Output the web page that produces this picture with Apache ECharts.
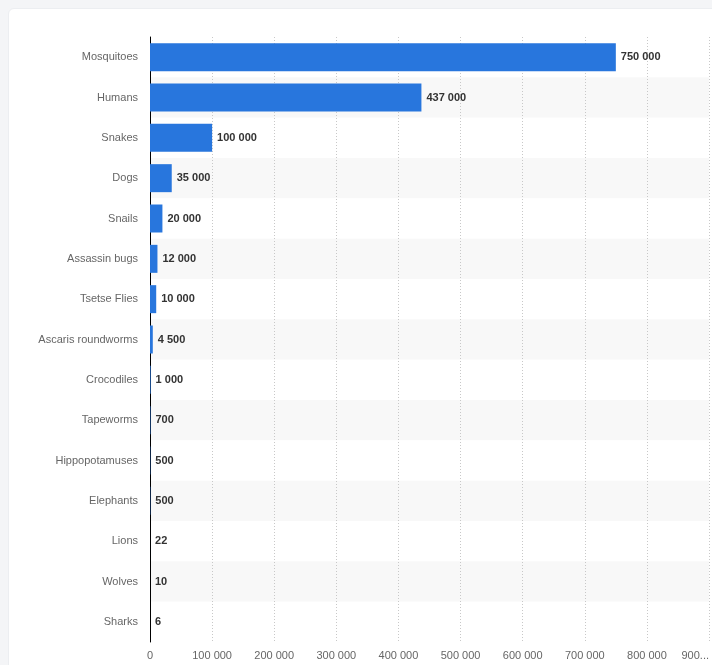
<!DOCTYPE html>
<html>
<head>
<meta charset="utf-8">
<script src="https://cdn.jsdelivr.net/npm/echarts@6/dist/echarts.min.js"></script>
<style>
html,body{margin:0;padding:0;width:712px;height:665px;overflow:hidden;background:#f4f5f7;}
#card{position:absolute;left:8px;top:8px;width:720px;height:680px;background:#fff;border:1px solid #eceef1;border-radius:6px;}
#chart{position:absolute;left:0;top:0;width:712px;height:665px;}
</style>
</head>
<body>
<div id="card"></div>
<div id="chart"></div>
<script>
const categories = ['Mosquitoes','Humans','Snakes','Dogs','Snails','Assassin bugs','Tsetse Flies','Ascaris roundworms','Crocodiles','Tapeworms','Hippopotamuses','Elephants','Lions','Wolves','Sharks'];
const deaths = [750000,437000,100000,35000,20000,12000,10000,4500,1000,700,500,500,22,10,6];
const xTicks = [0,100000,200000,300000,400000,500000,600000,700000,800000,900000];

function fmt(v){ return String(v).replace(/\B(?=(\d{3})+(?!\d))/g,' '); }

const chart = echarts.init(document.getElementById('chart'), null, {renderer:'canvas'});
chart.setOption({
  backgroundColor:'transparent',
  animation:false,
  grid:{left:150, right:-0.5, top:37, bottom:23, containLabel:false},
  xAxis:{
    type:'value', min:xTicks[0], max:xTicks[xTicks.length-1], interval:100000,
    axisLine:{show:false}, axisTick:{show:false},
    splitLine:{show:true, lineStyle:{color:'#c8c8c8', type:[1,2], width:1}},
    axisLabel:{color:'#666', fontSize:11, fontFamily:'Liberation Sans, Arial, sans-serif', margin:8,
      alignMaxLabel:'right',
      formatter:function(v){ return v===900000 ? '900...' : fmt(v); }}
  },
  yAxis:{
    type:'category', data:categories, inverse:true,
    axisLine:{show:true, lineStyle:{color:'#000', width:1}},
    axisTick:{show:false},
    splitArea:{show:true, areaStyle:{color:['#ffffff','#f8f8f8']}},
    axisLabel:{color:'#666', fontSize:11, fontFamily:'Liberation Sans, Arial, sans-serif', margin:12}
  },
  series:[{
    type:'bar', data:deaths, barWidth:28,
    itemStyle:{color:'#2876dd'},
    label:{show:true, position:'right', distance:5, color:'#333', fontWeight:'bold', fontSize:11,
      fontFamily:'Liberation Sans, Arial, sans-serif',
      formatter:function(p){ return fmt(p.value); }}
  }]
});
</script>
</body>
</html>
